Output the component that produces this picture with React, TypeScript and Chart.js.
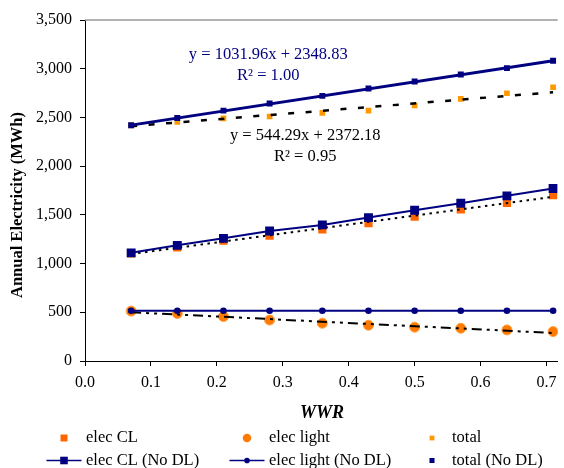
import React, { useEffect, useRef } from "react";
import { Chart, registerables } from "chart.js";

Chart.register(...registerables);

// ---------- data ----------
const wwr = [0.07, 0.14, 0.21, 0.28, 0.36, 0.43, 0.5, 0.57, 0.64, 0.71];
const elecCL = [1105, 1167, 1235, 1287, 1352, 1414, 1482, 1557, 1623, 1702];
const elecLight = [512, 487, 456, 420, 388, 367, 347, 336, 319, 302];
const total = [2419, 2453, 2491, 2510, 2546, 2570, 2622, 2690, 2748, 2810];
const elecCLNoDL = [1110, 1187, 1259, 1335, 1397, 1472, 1547, 1619, 1695, 1771];
const elecLightNoDL = [515, 515, 515, 515, 515, 515, 515, 515, 515, 515];
const totalNoDL = [2419, 2494, 2570, 2642, 2721, 2797, 2869, 2941, 3006, 3081];

// trendline equations printed on the chart
const totalNoDLFit = { slope: 1031.96, intercept: 2348.83, r2: "1.00" };
const totalFit = { slope: 544.29, intercept: 2372.18, r2: "0.95" };

const xTickMin = 0;
const xTickStep = 0.1;
const yTickMin = 0;
const yTickMax = 3500;
const yTickStep = 500;

const seriesLabels = [
  "elec CL",
  "elec light",
  "total",
  "elec CL (No DL)",
  "elec light (No DL)",
  "total (No DL)",
];

const FONT = '"Liberation Serif", "Times New Roman", serif';
const NAVY = "#000080";

function pts(ys: number[]) {
  return wwr.map((x, i) => ({ x, y: ys[i] }));
}

function regression(xs: number[], ys: number[]) {
  const n = xs.length;
  const mx = xs.reduce((a, b) => a + b, 0) / n;
  const my = ys.reduce((a, b) => a + b, 0) / n;
  let sxy = 0;
  let sxx = 0;
  for (let i = 0; i < n; i++) {
    sxy += (xs[i] - mx) * (ys[i] - my);
    sxx += (xs[i] - mx) * (xs[i] - mx);
  }
  const slope = sxy / sxx;
  return { slope, intercept: my - slope * mx };
}

function trendPts(fit: { slope: number; intercept: number }) {
  const x0 = wwr[0];
  const x1 = wwr[wwr.length - 1];
  return [
    { x: x0, y: fit.intercept + fit.slope * x0 },
    { x: x1, y: fit.intercept + fit.slope * x1 },
  ];
}

const decorPlugin = {
  id: "decor",
  afterDraw(chart: any) {
    const { ctx, chartArea, scales } = chart;
    const xs = scales.x;
    const ys = scales.y;
    ctx.save();

    // plot-area top border
    ctx.strokeStyle = "#9a9a9a";
    ctx.lineWidth = 1.5;
    ctx.beginPath();
    ctx.moveTo(chartArea.left, chartArea.top);
    ctx.lineTo(chartArea.right, chartArea.top);
    ctx.stroke();

    // equation labels
    const notes = chart.options.plugins.decor.notes;
    ctx.textAlign = "center";
    ctx.textBaseline = "middle";
    ctx.font = `16.5px ${FONT}`;
    for (const n of notes) {
      ctx.fillStyle = n.color;
      n.lines.forEach((t: string, i: number) => {
        ctx.fillText(t, xs.getPixelForValue(n.x), ys.getPixelForValue(n.y[i]));
      });
    }

    // axis titles
    ctx.fillStyle = "#000";
    ctx.font = `bold italic 18px ${FONT}`;
    ctx.fillText("WWR", 322, 413);
    ctx.save();
    ctx.translate(18, 205);
    ctx.rotate(-Math.PI / 2);
    ctx.font = `bold 16.5px ${FONT}`;
    ctx.fillText("Annual Electricity (MWh)", 0, 0);
    ctx.restore();

    // legend (3 columns x 2 rows)
    const cols = [64, 247, 432];
    const textCols = [86, 269, 452];
    const rows = [438, 460.5];
    const items = chart.data.datasets.filter((d: any) => !d.isTrend);
    items.forEach((d: any, i: number) => {
      const c = i % 3;
      const r = Math.floor(i / 3);
      const mx = cols[c];
      const my = rows[r];
      if (d.showLine) {
        ctx.strokeStyle = d.borderColor;
        ctx.lineWidth = 1.5;
        ctx.setLineDash([]);
        ctx.beginPath();
        ctx.moveTo(mx - 17.5, my);
        ctx.lineTo(mx + 17.5, my);
        ctx.stroke();
      }
      const rad = d.pointRadius * 0.85;
      ctx.fillStyle = d.pointBackgroundColor;
      if (d.pointStyle === "circle") {
        ctx.beginPath();
        ctx.arc(mx, my, rad, 0, Math.PI * 2);
        ctx.fill();
      } else {
        const s = rad * Math.SQRT1_2;
        ctx.fillRect(mx - s, my - s, 2 * s, 2 * s);
      }
      ctx.fillStyle = "#000";
      ctx.textAlign = "left";
      ctx.textBaseline = "middle";
      ctx.font = `16.5px ${FONT}`;
      ctx.fillText(d.label, textCols[c], my);
    });
    ctx.restore();
  },
};

export default function App() {
  const ref = useRef<HTMLCanvasElement | null>(null);

  useEffect(() => {
    document.body.style.margin = "0";
    const canvas = ref.current;
    if (!canvas) return;

    const clFit = regression(wwr, elecCL);
    const lightFit = regression(wwr, elecLight);

    const chart = new Chart(canvas, {
      type: "scatter",
      data: {
        datasets: [
          {
            label: seriesLabels[0],
            data: pts(elecCL),
            showLine: false,
            pointStyle: "rect",
            pointRadius: 5.8,
            pointBackgroundColor: "#FF6600",
            pointBorderWidth: 0,
            borderColor: "#FF6600",
            order: 3,
          },
          {
            label: seriesLabels[1],
            data: pts(elecLight),
            showLine: false,
            pointStyle: "circle",
            pointRadius: 5,
            pointBackgroundColor: "#FF7A00",
            pointBorderColor: "#FFA040",
            pointBorderWidth: 1,
            borderColor: "#FF7A00",
            order: 3,
          },
          {
            label: seriesLabels[2],
            data: pts(total),
            showLine: false,
            pointStyle: "rect",
            pointRadius: 4,
            pointBackgroundColor: "#FF9900",
            pointBorderWidth: 0,
            borderColor: "#FF9900",
            order: 3,
          },
          {
            label: seriesLabels[3],
            data: pts(elecCLNoDL),
            showLine: true,
            borderColor: NAVY,
            borderWidth: 2,
            pointStyle: "rect",
            pointRadius: 6.3,
            pointBackgroundColor: NAVY,
            pointBorderWidth: 0,
            order: 0,
          },
          {
            label: seriesLabels[4],
            data: pts(elecLightNoDL),
            showLine: true,
            borderColor: NAVY,
            borderWidth: 2,
            pointStyle: "circle",
            pointRadius: 3.3,
            pointBackgroundColor: NAVY,
            pointBorderWidth: 0,
            order: 0,
          },
          {
            label: seriesLabels[5],
            data: pts(totalNoDL),
            showLine: false,
            pointStyle: "rect",
            pointRadius: 4.2,
            pointBackgroundColor: NAVY,
            pointBorderWidth: 0,
            borderColor: NAVY,
            order: 0,
          },
          // trendlines
          {
            label: "",
            isTrend: true,
            data: trendPts(totalNoDLFit),
            showLine: true,
            borderColor: NAVY,
            borderWidth: 3,
            pointRadius: 0,
            order: 1,
          } as any,
          {
            label: "",
            isTrend: true,
            data: trendPts(totalFit),
            showLine: true,
            borderColor: "#000",
            borderWidth: 2.5,
            borderDash: [6, 11.5],
            pointRadius: 0,
            order: 1,
          } as any,
          {
            label: "",
            isTrend: true,
            data: trendPts(clFit),
            showLine: true,
            borderColor: "#000",
            borderWidth: 2,
            borderDash: [2.5, 4.5],
            pointRadius: 0,
            order: 1,
          } as any,
          {
            label: "",
            isTrend: true,
            data: trendPts(lightFit),
            showLine: true,
            borderColor: "#000",
            borderWidth: 2,
            borderDash: [10, 5, 3, 5, 3, 5],
            pointRadius: 0,
            order: 1,
          } as any,
        ],
      },
      options: {
        responsive: false,
        animation: false,
        layout: { padding: { top: 20, right: 0, bottom: 0, left: 0 } },
        plugins: {
          legend: { display: false },
          tooltip: { enabled: false },
          decor: {
            notes: [
              {
                lines: [
                  `y = ${totalNoDLFit.slope.toFixed(2)}x + ${totalNoDLFit.intercept.toFixed(2)}`,
                  `R² = ${totalNoDLFit.r2}`,
                ],
                color: NAVY,
                x: 0.278,
                y: [3145, 2924],
              },
              {
                lines: [
                  `y = ${totalFit.slope.toFixed(2)}x + ${totalFit.intercept.toFixed(2)}`,
                  `R² = ${totalFit.r2}`,
                ],
                color: "#000",
                x: 0.334,
                y: [2313, 2101],
              },
            ],
          },
        } as any,
        scales: {
          x: {
            type: "linear",
            min: xTickMin,
            max: 0.717,
            ticks: {
              stepSize: xTickStep,
              includeBounds: false,
              autoSkip: false,
              maxRotation: 0,
              padding: 7,
              color: "#000",
              font: { family: FONT, size: 16 },
              callback: (v: any) => Number(v).toFixed(1),
            },
            grid: {
              drawOnChartArea: false,
              drawTicks: true,
              tickLength: 5,
              tickColor: "#000",
              color: "#000",
            },
            border: { color: "#000", width: 1 },
            afterFit: (s: any) => {
              s.height = 107;
              s.paddingLeft = 0;
              s.paddingRight = 0;
            },
          },
          y: {
            type: "linear",
            min: yTickMin,
            max: yTickMax,
            ticks: {
              stepSize: yTickStep,
              padding: 8,
              color: "#000",
              font: { family: FONT, size: 16 },
              callback: (v: any) => Number(v).toLocaleString("en-US"),
            },
            grid: {
              drawOnChartArea: false,
              drawTicks: true,
              tickLength: 5,
              tickColor: "#000",
              color: "#000",
            },
            border: { color: "#000", width: 1 },
            afterFit: (s: any) => {
              s.width = 85;
              s.paddingTop = 0;
              s.paddingBottom = 0;
            },
          },
        },
      },
      plugins: [decorPlugin],
    });

    return () => chart.destroy();
  }, []);

  return (
    <div style={{ width: 564, height: 468 }}>
      <canvas ref={ref} width={564} height={468} style={{ display: "block" }} />
    </div>
  );
}
